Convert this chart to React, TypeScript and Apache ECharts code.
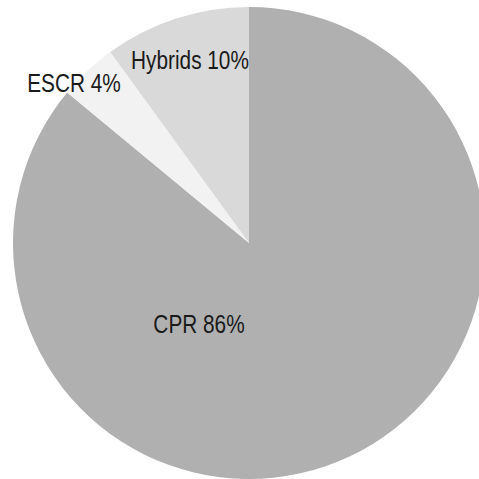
import React, { useEffect, useRef } from "react";
import * as echarts from "echarts";

const categories = ["CPR", "ESCR", "Hybrids"];
const values = [86, 4, 10];
const colors = ["#b0b0b0", "#f2f2f2", "#d9d9d9"];
const labelX = [199, 74, 190];
const labelY = [324, 83, 60];

export default function App() {
  const ref = useRef<HTMLDivElement>(null);
  useEffect(() => {
    if (!ref.current) return;
    const chart = echarts.init(ref.current, null, { renderer: "svg" });
    chart.setOption({
      animation: false,
      backgroundColor: "#ffffff",
      series: [
        {
          type: "pie",
          center: [249, 243],
          radius: 236,
          startAngle: 90,
          clockwise: true,
          silent: true,
          itemStyle: { borderWidth: 0 },
          label: { show: false },
          labelLine: { show: false },
          data: categories.map((c, i) => ({
            name: c,
            value: values[i],
            itemStyle: { color: colors[i] },
          })),
        },
      ],
      graphic: categories.map((c, i) => ({
        type: "text",
        x: labelX[i],
        y: labelY[i],
        scaleX: 0.8,
        silent: true,
        z: 100,
        style: {
          text: `${c} ${values[i]}%`,
          fill: "#1a1a1a",
          fontSize: 26,
          fontFamily: "'Liberation Sans', Arial, sans-serif",
          align: "center",
          verticalAlign: "middle",
        },
      })),
    });
    return () => chart.dispose();
  }, []);
  return (
    <div
      ref={ref}
      style={{ position: "absolute", left: 0, top: 0, width: 479, height: 479 }}
    />
  );
}
